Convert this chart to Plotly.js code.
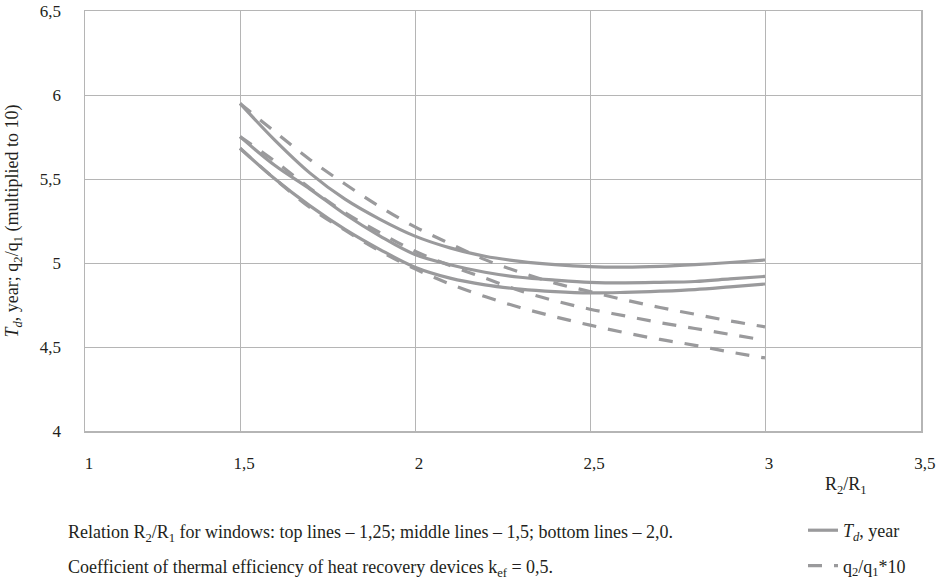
<!DOCTYPE html>
<html>
<head>
<meta charset="utf-8">
<script src="https://cdn.plot.ly/plotly-3.0.1.min.js"></script>
<style>
html, body { margin: 0; padding: 0; background: #ffffff; }
#chart { width: 944px; height: 580px; }
</style>
</head>
<body>
<div id="chart"></div>
<script>
// R2/R1 values (x)
const xRatio = [1.5, 1.6, 1.7, 1.8, 1.9, 2.0, 2.1, 2.2, 2.3, 2.4, 2.5, 2.6, 2.7, 2.8, 2.9, 3.0];

// T_d, year (solid lines): windows R2/R1 = 1,25 (top), 1,5 (middle), 2,0 (bottom)
const tdTop    = [5.95, 5.73, 5.535, 5.38, 5.26, 5.16, 5.09, 5.04, 5.01, 4.99, 4.978, 4.975, 4.98, 4.99, 5.003, 5.018];
const tdMiddle = [5.752, 5.58, 5.44, 5.29, 5.16, 5.05, 4.99, 4.945, 4.915, 4.898, 4.885, 4.882, 4.885, 4.89, 4.905, 4.92];
const tdBottom = [5.683, 5.5, 5.34, 5.2, 5.08, 4.975, 4.91, 4.87, 4.845, 4.83, 4.822, 4.825, 4.832, 4.842, 4.858, 4.875];

// q2/q1*10 (dashed lines)
const qTop    = [5.95, 5.78, 5.615, 5.47, 5.335, 5.215, 5.115, 5.02, 4.945, 4.88, 4.83, 4.78, 4.735, 4.695, 4.655, 4.62];
const qMiddle = [5.752, 5.605, 5.445, 5.3, 5.18, 5.07, 4.985, 4.91, 4.835, 4.775, 4.725, 4.685, 4.645, 4.61, 4.575, 4.54];
const qBottom = [5.683, 5.5, 5.33, 5.195, 5.071, 4.965, 4.875, 4.8, 4.735, 4.68, 4.63, 4.585, 4.545, 4.51, 4.47, 4.435];

// Tick labels
const xTickVals = [1.0572, 1.5, 2, 2.5, 3, 3.4456];
const xTickText = ['1', '1,5', '2', '2,5', '3', '3,5'];
const yTickVals = [4, 4.5, 5, 5.5, 6, 6.5];
const yTickText = ['4', '4,5', '5', '5,5', '6', '6,5'];

const lineColor = '#9a9a9c';
const gridColor = '#b5b5b5';
const textColor = '#231f20';
const fontFamily = '"Liberation Serif", "DejaVu Serif", serif';

const solidName = '<i>T<sub>d</sub></i>, year';
const dashName = 'q<sub>2</sub>/q<sub>1</sub>*10';
const dashStyle = '14px,12px';

function mk(y, isDash, show) {
  return {
    x: xRatio, y: y, type: 'scatter', mode: 'lines',
    name: isDash ? dashName : solidName,
    legendgroup: isDash ? 'q' : 'td',
    showlegend: show,
    line: { color: lineColor, width: 3.2, shape: 'spline', smoothing: 1, dash: isDash ? dashStyle : 'solid' },
    hoverinfo: 'x+y'
  };
}

const data = [
  mk(tdTop, false, true), mk(tdMiddle, false, false), mk(tdBottom, false, false),
  mk(qTop, true, true), mk(qMiddle, true, false), mk(qBottom, true, false)
];

const L = 85, R = 23, T = 11, B = 149, W = 944, H = 580;
const pw = W - L - R, ph = H - T - B;
const px = v => (v - L) / pw;
const py = v => (H - B - v) / ph;

const f = s => ({ family: fontFamily, size: s, color: textColor });

const layout = {
  width: W, height: H,
  margin: { l: L, r: R, t: T, b: B, pad: 0, autoexpand: false },
  paper_bgcolor: '#ffffff', plot_bgcolor: '#ffffff',
  font: f(17),
  showlegend: true,
  xaxis: {
    range: [1.0571, 3.4457], tickmode: 'array', tickvals: xTickVals, ticktext: xTickText,
    showgrid: true, gridcolor: gridColor, gridwidth: 1,
    showline: true, linecolor: gridColor, linewidth: 1.5, mirror: true,
    zeroline: false, ticks: '', ticklabelstandoff: 16, ticklabelshift: 4,
    tickfont: f(17), automargin: false
  },
  yaxis: {
    range: [4, 6.5], tickmode: 'array', tickvals: yTickVals, ticktext: yTickText,
    showgrid: true, gridcolor: gridColor, gridwidth: 1,
    showline: true, linecolor: gridColor, linewidth: 1.5, mirror: true,
    zeroline: false, ticks: '', ticklabelstandoff: 19,
    tickfont: f(17), automargin: false,
    title: { text: '<i>T<sub>d</sub></i>, year; q<sub>2</sub>/q<sub>1</sub> (multiplied to 10)', standoff: 16, font: f(18) }
  },
  legend: {
    x: px(803), xanchor: 'left', y: py(512), yanchor: 'top',
    bgcolor: 'rgba(0,0,0,0)', borderwidth: 0,
    traceorder: 'grouped', tracegroupgap: 9,
    font: f(18)
  },
  annotations: [
    { xref: 'paper', yref: 'paper', x: px(846), y: py(485), xanchor: 'center', yanchor: 'middle',
      text: 'R<sub>2</sub>/R<sub>1</sub>', showarrow: false, font: f(18) },
    { xref: 'paper', yref: 'paper', x: px(66), y: py(533), xanchor: 'left', yanchor: 'middle',
      text: 'Relation R<sub>2</sub>/R<sub>1</sub> for windows: top lines – 1,25; middle lines – 1,5; bottom lines – 2,0.',
      showarrow: false, font: f(18) },
    { xref: 'paper', yref: 'paper', x: px(66), y: py(568), xanchor: 'left', yanchor: 'middle',
      text: 'Coefficient of thermal efficiency of heat recovery devices k<sub>ef</sub> = 0,5.',
      showarrow: false, font: f(18) }
  ]
};

Plotly.newPlot('chart', data, layout, { displayModeBar: false, staticPlot: true });
</script>
</body>
</html>
